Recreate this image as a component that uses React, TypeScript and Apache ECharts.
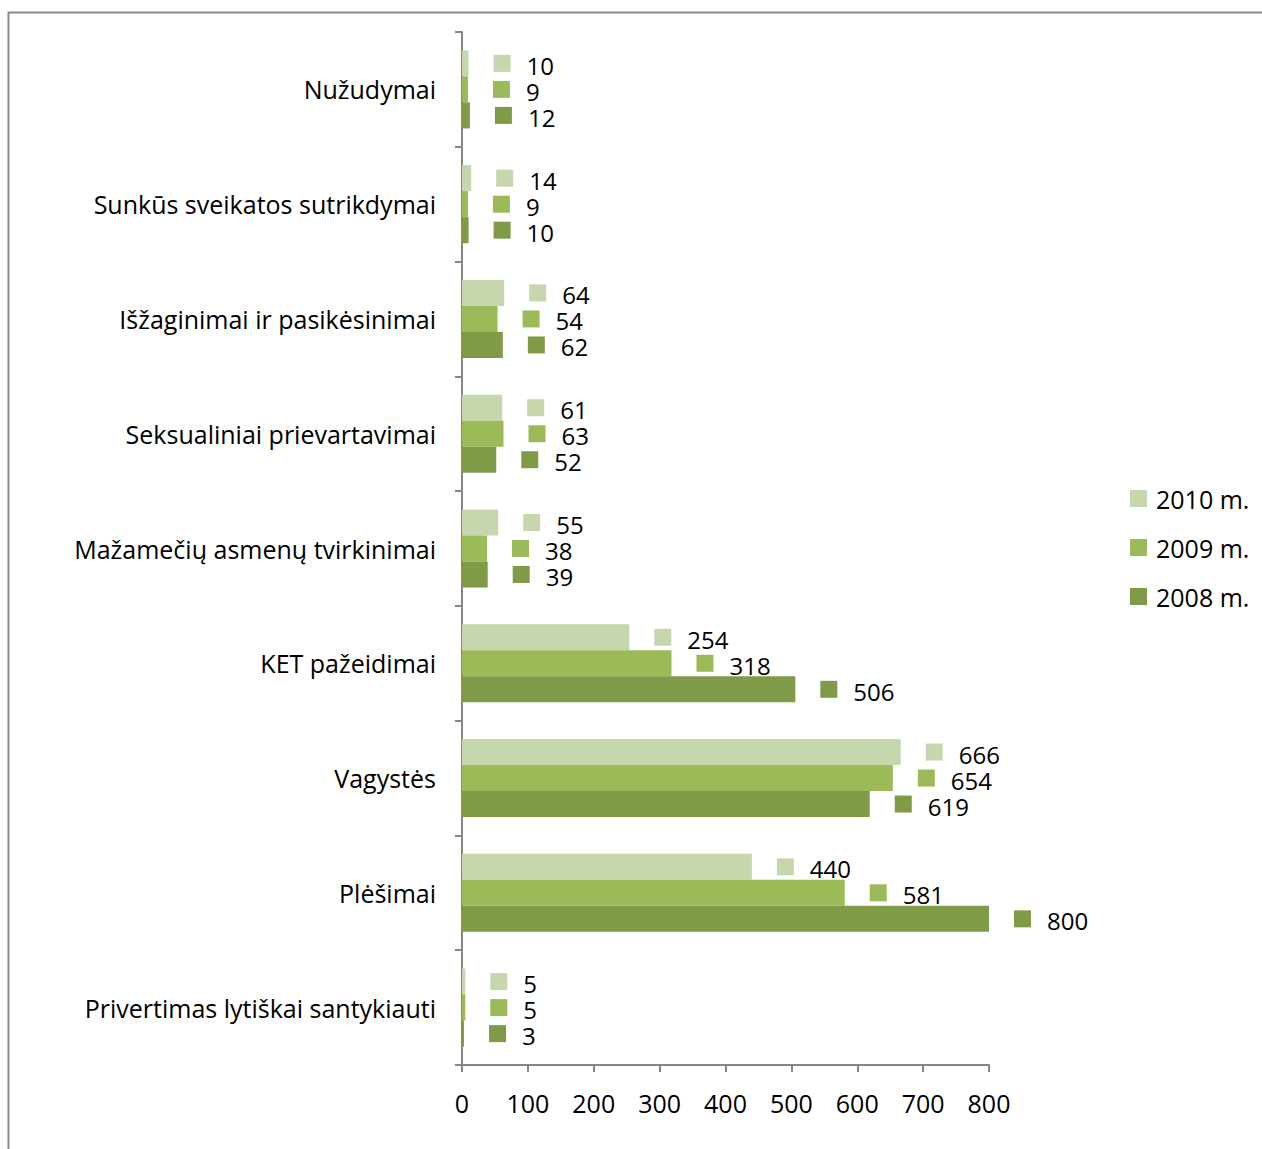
import React, { useEffect, useRef } from "react";
import * as echarts from "echarts";

const categories = [
  "Nužudymai",
  "Sunkūs sveikatos sutrikdymai",
  "Išžaginimai ir pasikėsinimai",
  "Seksualiniai prievartavimai",
  "Mažamečių asmenų tvirkinimai",
  "KET pažeidimai",
  "Vagystės",
  "Plėšimai",
  "Privertimas lytiškai santykiauti",
];
const seriesNames = ["2010 m.", "2009 m.", "2008 m."];
const values2010 = [10, 14, 64, 61, 55, 254, 666, 440, 5];
const values2009 = [9, 9, 54, 63, 38, 318, 654, 581, 5];
const values2008 = [12, 10, 62, 52, 39, 506, 619, 800, 3];
const colors = ["#C6D7AD", "#9BBB59", "#7F9B48"];
const xTicks = { min: 0, max: 800, interval: 100 };

const FONT = "'Open Sans', sans-serif";
const FS = 25;

export default function App() {
  const ref = useRef<HTMLDivElement>(null);
  useEffect(() => {
    if (!ref.current) return;
    const chart = echarts.init(ref.current, null, { renderer: "svg" });
    const all = [values2010, values2009, values2008];
    const series = all.map((vals, i) => ({
      name: seriesNames[i],
      type: "bar",
      data: vals,
      barGap: "0%",
      barCategoryGap: "32%",
      itemStyle: { color: colors[i] },
      label: {
        show: true,
        position: "right",
        distance: 25,
        formatter: (p: any) => "{s|}{v|" + p.value + "}",
        rich: {
          s: { width: 17, height: 17, backgroundColor: colors[i] },
          v: {
            fontSize: 24,
            fontFamily: FONT,
            color: "#000",
            lineHeight: 21,
            padding: [4, 0, 0, 16],
          },
        },
      },
    }));
    chart.setOption({
      animation: false,
      textStyle: { fontFamily: FONT },
      grid: { left: 462, right: 273, top: 32, bottom: 84, containLabel: false },
      legend: {
        orient: "vertical",
        left: 1130,
        top: 486,
        padding: 0,
        itemWidth: 17,
        itemHeight: 17,
        itemGap: 24,
        icon: "rect",
        data: seriesNames,
        textStyle: { fontSize: FS, fontFamily: FONT, color: "#000", padding: [0, 0, 0, 4] },
      },
      xAxis: {
        type: "value",
        min: xTicks.min,
        max: xTicks.max,
        interval: xTicks.interval,
        splitLine: { show: false },
        axisLine: { show: true, lineStyle: { color: "#868686", width: 2 } },
        axisTick: { show: true, length: 7, lineStyle: { color: "#868686", width: 2 } },
        axisLabel: { fontSize: FS, fontFamily: FONT, color: "#000", margin: 25 },
      },
      yAxis: {
        type: "category",
        inverse: true,
        data: categories,
        axisLine: { show: true, lineStyle: { color: "#868686", width: 2 } },
        axisTick: { show: true, length: 7, lineStyle: { color: "#868686", width: 2 } },
        axisLabel: { fontSize: FS, fontFamily: FONT, color: "#000", margin: 26 },
      },
      graphic: [
        {
          type: "rect",
          shape: { x: 8.5, y: 12.5, width: 3000, height: 3000 },
          style: { fill: "none", stroke: "#898989", lineWidth: 2 },
          silent: true,
        },
      ],
      series,
    });
    return () => chart.dispose();
  }, []);
  return (
    <div
      ref={ref}
      style={{ position: "absolute", left: 0, top: 0, width: 1262, height: 1149, background: "#fff" }}
    />
  );
}
